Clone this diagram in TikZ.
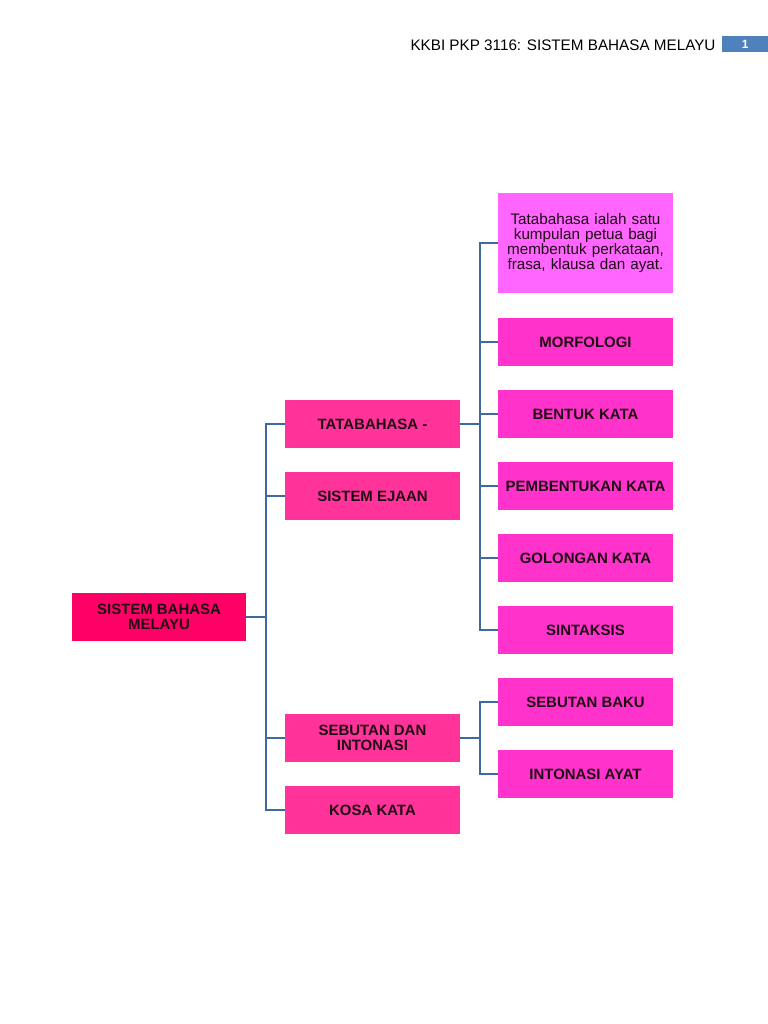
\documentclass[tikz,border=0pt]{standalone}
\usepackage{fontspec}
\setmainfont{Liberation Sans}
\usetikzlibrary{positioning}
\definecolor{rootpink}{HTML}{FF0066}
\definecolor{midpink}{HTML}{FF3399}
\definecolor{leafpink}{HTML}{FF33CC}
\definecolor{defpink}{HTML}{FF66FF}
\definecolor{linkblue}{HTML}{3F6A9E}
\definecolor{badgeblue}{HTML}{4F81BD}
\definecolor{textdark}{HTML}{1F0A14}
\tikzset{
  box/.style={rectangle, minimum width=175bp, minimum height=48bp, inner sep=1bp, outer sep=0pt,
    align=center, text=textdark, font=\fontsize{15}{15.5}\selectfont\bfseries},
  rootbox/.style={box, fill=rootpink, minimum width=174bp},
  midbox/.style={box, fill=midpink},
  leafbox/.style={box, fill=leafpink},
  defbox/.style={box, fill=defpink, minimum height=100bp, text width=170bp,
    font=\fontsize{15.3}{15.3}\selectfont},
  link/.style={draw=linkblue, line width=2.4bp},
}

\begin{document}
\begin{tikzpicture}[x=1bp, y=-1bp]
    \useasboundingbox (0,0) rectangle (768,1024);
    % En-tete
    \node[anchor=base east, font=\fontsize{15.3}{18}\selectfont] (title) at (719,50) {KKBI PKP 3116: SISTEM BAHASA MELAYU};
    \node[fill=badgeblue, text=white, anchor=north west, minimum width=46bp, minimum height=16bp,
      inner sep=0pt, font=\fontsize{12}{12}\selectfont\bfseries] (page) at (722,36) {1};
    % Racine
    \node[rootbox] (root) at (159,617) {SISTEM BAHASA\\MELAYU};
    % Niveau 1
    \node[midbox] (tata) at (372.5,424) {TATABAHASA -};
    \node[midbox, below=24bp of tata] (ejaan) {SISTEM EJAAN};
    \node[midbox] (sebutan) at (372.5,738) {SEBUTAN DAN\\INTONASI};
    \node[midbox, below=24bp of sebutan] (kosa) {KOSA KATA};
    % Niveau 2
    \node[defbox] (defn) at (585.5,243) {Tatabahasa ialah satu\\kumpulan petua bagi\\membentuk perkataan,\\frasa, klausa dan ayat.};
    \node[leafbox, below=25bp of defn] (morf) {MORFOLOGI};
    \node[leafbox, below=24bp of morf] (bentuk) {BENTUK KATA};
    \node[leafbox, below=24bp of bentuk] (pembentukan) {PEMBENTUKAN KATA};
    \node[leafbox, below=24bp of pembentukan] (golongan) {GOLONGAN KATA};
    \node[leafbox, below=24bp of golongan] (sintaksis) {SINTAKSIS};
    \node[leafbox, below=24bp of sintaksis] (baku) {SEBUTAN BAKU};
    \node[leafbox, below=24bp of baku] (intonasi) {INTONASI AYAT};
    % Liens
    \draw[link] (root.east) -- ++(20,0) coordinate (busA);
    \foreach \n in {tata,ejaan,sebutan,kosa} \draw[link] (busA) |- (\n.west);
    \draw[link] (tata.east) -- ++(20,0) coordinate (busB);
    \foreach \n in {defn,morf,bentuk,pembentukan,golongan,sintaksis} \draw[link] (busB) |- (\n.west);
    \draw[link] (sebutan.east) -- ++(20,0) coordinate (busC);
    \foreach \n in {baku,intonasi} \draw[link] (busC) |- (\n.west);
\end{tikzpicture}
\end{document}
